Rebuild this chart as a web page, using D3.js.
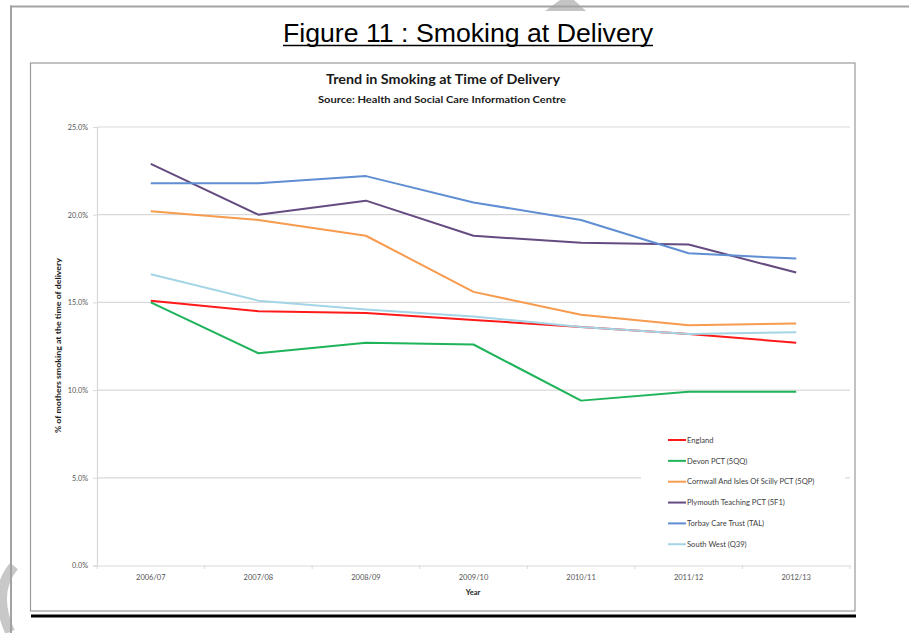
<!DOCTYPE html>
<html>
<head>
<meta charset="utf-8">
<script src="https://cdn.jsdelivr.net/npm/d3@7"></script>
<style>
  html, body { margin: 0; padding: 0; background: #ffffff; }
  svg { display: block; }
</style>
</head>
<body>
<script>
// Smoking at time of delivery, % of mothers, by financial year
const years = ["2006/07", "2007/08", "2008/09", "2009/10", "2010/11", "2011/12", "2012/13"];
const seriesNames = [
  "England",
  "Devon PCT (5QQ)",
  "Cornwall And Isles Of Scilly PCT (5QP)",
  "Plymouth Teaching PCT (5F1)",
  "Torbay Care Trust (TAL)",
  "South West (Q39)"
];
const england   = [15.1, 14.5, 14.4, 14.0, 13.6, 13.2, 12.7];
const devon     = [15.0, 12.1, 12.7, 12.6, 9.4, 9.9, 9.9];
const cornwall  = [20.2, 19.7, 18.8, 15.6, 14.3, 13.7, 13.8];
const plymouth  = [22.9, 20.0, 20.8, 18.8, 18.4, 18.3, 16.7];
const torbay    = [21.8, 21.8, 22.2, 20.7, 19.7, 17.8, 17.5];
const southWest = [16.6, 15.1, 14.6, 14.2, 13.6, 13.2, 13.3];
const seriesValues = [england, devon, cornwall, plymouth, torbay, southWest];
const seriesColors = ["#ff1a1a", "#1fb35a", "#f79b4f", "#654c80", "#5f8ed2", "#a3d5e6"];
const yTicks = [0, 5, 10, 15, 20, 25];

const W = 909, H = 633;
const svg = d3.select("body").append("svg").attr("width", W).attr("height", H);

// page decoration: outer frame and scan marks
svg.append("path").attr("d", "M545,11 L560,0 L574,0 L586,11 Z").attr("fill", "#c4c4c4");
svg.append("path").attr("d", "M14,566 Q-8,592 10,632").attr("fill", "none")
  .attr("stroke", "#c8c8c8").attr("stroke-width", 10);
svg.append("line").attr("x1", 10).attr("x2", W).attr("y1", 6.5).attr("y2", 6.5)
  .attr("stroke", "#a3a3a3").attr("stroke-width", 2);
svg.append("line").attr("x1", 11).attr("x2", 11).attr("y1", 5.5).attr("y2", H)
  .attr("stroke", "#a3a3a3").attr("stroke-width", 2);

// figure heading
svg.append("text").attr("x", 468).attr("y", 42)
  .attr("text-anchor", "middle")
  .attr("font-family", "Liberation Sans, Arial, sans-serif")
  .attr("font-size", 25.5).attr("fill", "#000")
  .attr("textLength", 370).attr("lengthAdjust", "spacingAndGlyphs")
  .text("Figure 11 : Smoking at Delivery");
svg.append("line").attr("x1", 283).attr("x2", 653).attr("y1", 45.5).attr("y2", 45.5)
  .attr("stroke", "#000").attr("stroke-width", 1.3);

// chart frame
svg.append("rect").attr("x", 30.5).attr("y", 63).attr("width", 824.5).attr("height", 548)
  .attr("fill", "#fff").attr("stroke", "#9a9a9a").attr("stroke-width", 1.2);
svg.append("rect").attr("x", 31).attr("y", 614.5).attr("width", 825).attr("height", 3).attr("fill", "#000");

const font = "Lato, 'Open Sans', sans-serif";

svg.append("text").attr("x", 443).attr("y", 84).attr("text-anchor", "middle")
  .attr("font-family", font).attr("font-weight", "bold").attr("font-size", 13)
  .attr("fill", "#1a1a1a").attr("textLength", 234).attr("lengthAdjust", "spacingAndGlyphs")
  .text("Trend in Smoking at Time of Delivery");
svg.append("text").attr("x", 442).attr("y", 103).attr("text-anchor", "middle")
  .attr("font-family", font).attr("font-weight", "bold").attr("font-size", 9.5)
  .attr("fill", "#1a1a1a").attr("textLength", 248).attr("lengthAdjust", "spacingAndGlyphs")
  .text("Source: Health and Social Care Information Centre");

// scales
const x = d3.scaleBand().domain(years).range([97, 850]).padding(0);
const y = d3.scaleLinear().domain([0, 25]).range([565.5, 127]);

// gridlines
svg.append("g").selectAll("line").data(yTicks.slice(1)).join("line")
  .attr("x1", 97).attr("x2", 850)
  .attr("y1", d => y(d)).attr("y2", d => y(d))
  .attr("stroke", "#d9d9d9").attr("stroke-width", 1.2);

// y axis
const yAxis = svg.append("g").attr("transform", "translate(97,0)")
  .call(d3.axisLeft(y).tickValues(yTicks).tickSize(4).tickPadding(5)
    .tickFormat(d => d.toFixed(1) + "%"));
yAxis.select(".domain").attr("stroke", "#d9d9d9").attr("stroke-width", 1.2);
yAxis.selectAll(".tick line").attr("stroke", "#d9d9d9");
yAxis.selectAll(".tick text").attr("font-family", font).attr("font-size", 7.3).attr("fill", "#555");

// x axis
const xAxis = svg.append("g").attr("transform", "translate(0,565.5)")
  .call(d3.axisBottom(x).tickSize(0).tickPadding(9));
xAxis.select(".domain").attr("stroke", "#d9d9d9").attr("stroke-width", 1.2);
xAxis.selectAll(".tick text").attr("font-family", font).attr("font-size", 7.5).attr("fill", "#555");
svg.append("g").selectAll("line").data(years.concat(["end"])).join("line")
  .attr("x1", (d, i) => i < years.length ? x(d) : x.range()[1])
  .attr("x2", (d, i) => i < years.length ? x(d) : x.range()[1])
  .attr("y1", 565.5).attr("y2", 569)
  .attr("stroke", "#d9d9d9");

// axis titles
svg.append("text").attr("x", 473).attr("y", 595).attr("text-anchor", "middle")
  .attr("font-family", font).attr("font-weight", "bold").attr("font-size", 7.5)
  .attr("fill", "#1a1a1a").text("Year");
svg.append("text").attr("transform", "translate(61,345.5) rotate(-90)")
  .attr("text-anchor", "middle")
  .attr("font-family", font).attr("font-weight", "bold").attr("font-size", 7.5)
  .attr("fill", "#1a1a1a").attr("textLength", 175).attr("lengthAdjust", "spacingAndGlyphs")
  .text("% of mothers smoking at the time of delivery");

// series lines
const line = d3.line()
  .x((d, i) => x(years[i]) + x.bandwidth() / 2)
  .y(d => y(d));
svg.append("g").selectAll("path").data(seriesValues).join("path")
  .attr("d", line)
  .attr("fill", "none")
  .attr("stroke", (d, i) => seriesColors[i])
  .attr("stroke-width", 2)
  .attr("stroke-linejoin", "round");

// legend
svg.append("rect").attr("x", 641).attr("y", 426).attr("width", 204).attr("height", 130).attr("fill", "#fff");
const leg = svg.append("g").selectAll("g").data(seriesNames).join("g")
  .attr("transform", (d, i) => `translate(668,${440 + i * 20.85})`);
leg.append("line").attr("x1", 0).attr("x2", 18).attr("y1", 0).attr("y2", 0)
  .attr("stroke", (d, i) => seriesColors[i]).attr("stroke-width", 2);
leg.append("text").attr("x", 19).attr("y", 2.7)
  .attr("font-family", font).attr("font-size", 7.6).attr("fill", "#404040")
  .text(d => d);
</script>
</body>
</html>
